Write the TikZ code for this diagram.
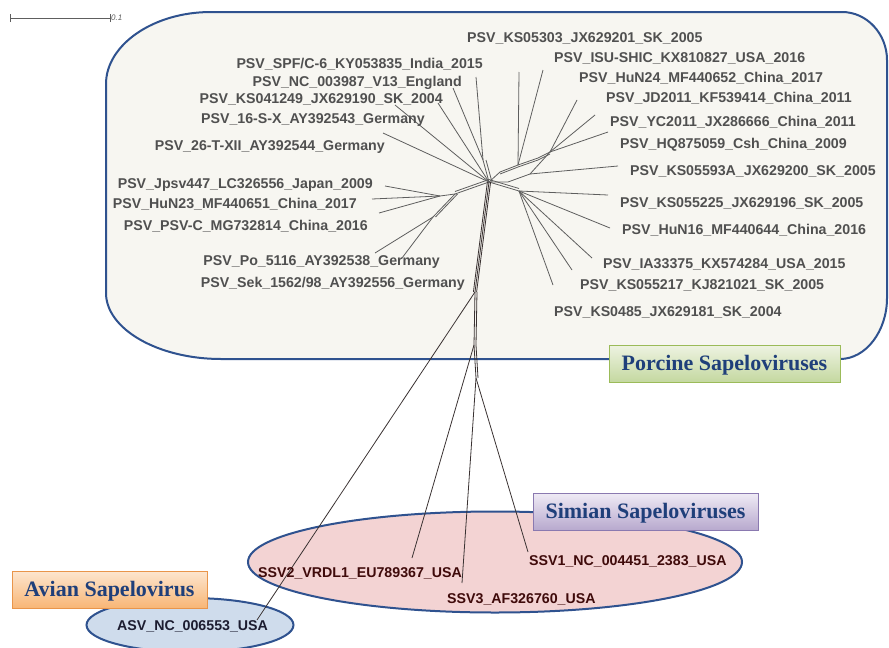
\documentclass[tikz,border=0pt]{standalone}
\usepackage{fontspec}
\setmainfont{Liberation Serif}
\setsansfont{Liberation Sans}
\usetikzlibrary{shapes.geometric}

\definecolor{frameblue}{HTML}{2F528F}
\definecolor{boxfill}{HTML}{F7F6F1}
\definecolor{psvgrey}{HTML}{505050}
\definecolor{ssvred}{HTML}{3F0A0A}
\definecolor{asvdark}{HTML}{1C1C30}
\definecolor{titleblue}{HTML}{1F3F7A}
\definecolor{edgegrey}{HTML}{5E5E5E}
\definecolor{edgedark}{HTML}{3A3232}
\definecolor{simfill}{HTML}{F3D3D3}
\definecolor{avfill}{HTML}{CFDCEC}
\definecolor{porctop}{HTML}{EEF3E2}
\definecolor{porcbot}{HTML}{C4D8A0}
\definecolor{porcline}{HTML}{9BBB59}
\definecolor{simtop}{HTML}{EFEBF5}
\definecolor{simbot}{HTML}{B8A9CE}
\definecolor{simline}{HTML}{8A79B0}
\definecolor{avtop}{HTML}{FDE6CF}
\definecolor{avbot}{HTML}{F8B676}
\definecolor{avline}{HTML}{E9954A}

\begin{document}
\begin{tikzpicture}[x=1pt, y=-1pt,
  psvl/.style={anchor=east, inner sep=0pt, text height=10.2pt, text depth=0pt, text=psvgrey, font=\sffamily\bfseries\fontsize{14.2}{16}\selectfont},
  psvr/.style={psvl, anchor=west},
  ssv/.style={psvl, anchor=west, text=ssvred},
  br/.style={draw=edgegrey, line width=0.8pt},
  brd/.style={draw=edgedark, line width=0.8pt},
  grp/.style={ellipse, draw=frameblue, line width=2pt, inner sep=0pt},
  tbox/.style={rectangle, draw, line width=0.8pt, inner sep=0pt, minimum height=37pt, text height=14.6pt, text depth=0pt, text=titleblue, font=\rmfamily\bfseries\fontsize{22}{24}\selectfont}]
  \useasboundingbox (0,0) rectangle (889,648);

  % group outlines
  \draw[frameblue, line width=2pt, fill=boxfill] (211,12) -- (842,12)
    .. controls (867,12) and (887,34) .. (887,60) -- (887,298)
    .. controls (887,331) and (866,359) .. (840,359) -- (221,359)
    .. controls (158,359) and (106,329) .. (106,293) -- (106,84)
    .. controls (106,45) and (153,12) .. (211,12) -- cycle;
  \node[grp, fill=simfill, minimum width=494pt, minimum height=101pt] (simian) at (495,562) {};
  \node[grp, fill=avfill, minimum width=207pt, minimum height=54pt] (avian) at (190,625) {};

  % scale bar
  \coordinate (sbl) at (10,18);
  \coordinate (sbr) at (110,18);
  \draw[edgegrey, line width=0.6pt] (sbl) -- (sbr);
  \draw[edgegrey, line width=0.6pt] ([yshift=-4pt]sbl) -- ([yshift=4pt]sbl);
  \draw[edgegrey, line width=0.6pt] ([yshift=-4pt]sbr) -- ([yshift=4pt]sbr);
  \node[anchor=west, inner sep=1pt, text=edgegrey, font=\sffamily\itshape\fontsize{8}{9}\selectfont] (sbtext) at (sbr) {0.1};

  % branch points
  \coordinate (c0) at (489,182);
  \coordinate (cU) at (483,160);
  \coordinate (cL) at (455,194);
  \coordinate (cL1) at (440,196);
  \coordinate (cLL) at (433,217);
  \coordinate (r1) at (500,172);
  \coordinate (r2) at (518,165);
  \coordinate (r3) at (538,158);
  \coordinate (cR) at (550,152);
  \coordinate (q1) at (508,182);
  \coordinate (q2) at (530,174);
  \coordinate (cD) at (519,191);
  \coordinate (cT1) at (475,292);
  \coordinate (cS2) at (474,345);
  \coordinate (cT2) at (476,378);

  % leaf ends
  \coordinate (eSPF) at (476,77);
  \coordinate (eNC) at (453,88);
  \coordinate (eKS041249) at (438,103);
  \coordinate (e16SX) at (395,105);
  \coordinate (e26T) at (383,133);
  \coordinate (eJpsv) at (385,186);
  \coordinate (eHuN23) at (372,199);
  \coordinate (ePSVC) at (379,213);
  \coordinate (ePo) at (375,253);
  \coordinate (eSek) at (402,258);
  \coordinate (eKS05303) at (519,72);
  \coordinate (eISU) at (543,70);
  \coordinate (eHuN24) at (577,100);
  \coordinate (eJD) at (595,115);
  \coordinate (eYC) at (608,132);
  \coordinate (eKS05593A) at (618,166);
  \coordinate (eKS055225) at (608,195);
  \coordinate (eHuN16) at (610,228);
  \coordinate (eIA) at (592,258);
  \coordinate (eKS055217) at (572,270);
  \coordinate (eKS0485) at (553,285);
  \coordinate (eASV) at (257,620);
  \coordinate (eSSV2) at (412,558);
  \coordinate (eSSV3) at (462,583);
  \coordinate (eSSV1) at (528,552);

  % network
  \draw[br] (eSPF) -- (cU);
  \draw[br] (eNC) -- (cU);
  \draw[br] (cU) -- (c0);
  \draw[br] ([xshift=3pt]cU) -- ([xshift=3pt]c0);
  \draw[br] (eKS041249) -- (c0);
  \draw[br] (e16SX) -- (c0);
  \draw[br] (e26T) -- (c0);
  \draw[br] (c0) -- (cL);
  \draw[br] ([yshift=2.5pt]c0) -- ([yshift=2.5pt]cL);
  \draw[br] (cL) -- (cL1);
  \draw[br] (eJpsv) -- (cL1);
  \draw[br] (eHuN23) -- (cL1);
  \draw[br] (ePSVC) -- (cL1);
  \draw[br] (cL) -- (cLL);
  \draw[br] ([xshift=2.5pt]cL) -- ([xshift=2.5pt]cLL);
  \draw[br] (ePo) -- (cLL);
  \draw[br] (eSek) -- (cLL);
  \draw[br] (c0) -- (r1) -- (r2) -- (r3) -- (cR);
  \draw[br] ([yshift=-2pt]r1) -- ([yshift=-2pt]r2) -- ([yshift=-2pt]r3) -- ([yshift=-2pt]cR);
  \draw[br] (c0) -- (q1) -- (q2) -- (cR);
  \draw[br] (eKS05303) -- (r2);
  \draw[br] (eISU) -- (r2);
  \draw[br] (eHuN24) -- (cR);
  \draw[br] (eJD) -- (cR);
  \draw[br] (eYC) -- (cR);
  \draw[br] (eKS05593A) -- (q2);
  \draw[br] (c0) -- (cD);
  \draw[br] ([yshift=2.5pt]c0) -- ([yshift=2.5pt]cD);
  \draw[br] (cD) -- (eKS055225);
  \draw[br] (cD) -- (eHuN16);
  \draw[br] (cD) -- (eIA);
  \draw[br] (cD) -- (eKS055217);
  \draw[br] (cD) -- (eKS0485);
  \draw[brd] ([xshift=-1.6pt]c0) -- ([xshift=-1.6pt]cT1);
  \draw[brd] (c0) -- (cT1);
  \draw[brd] ([xshift=1.6pt]c0) -- ([xshift=1.6pt]cT1);
  \draw[brd] (cT1) -- (cS2);
  \draw[brd] ([xshift=2pt]cT1) -- ([xshift=2pt]cS2);
  \draw[brd] (cS2) -- (cT2);
  \draw[brd] ([xshift=2pt]cS2) -- ([xshift=2pt]cT2);
  \draw[brd] (cT1) -- (eASV);
  \draw[brd] (cS2) -- (eSSV2);
  \draw[brd] (cT2) -- (eSSV3);
  \draw[brd] (cT2) -- (eSSV1);

  % porcine labels
  \node[psvl] (tSPF) at (483,63) {PSV\_SPF/C-6\_KY053835\_India\_2015};
  \node[psvl] (tNC) at (462,81) {PSV\_NC\_003987\_V13\_England};
  \node[psvl] (tKS041249) at (443,98) {PSV\_KS041249\_JX629190\_SK\_2004};
  \node[psvl] (t16SX) at (425,118) {PSV\_16-S-X\_AY392543\_Germany};
  \node[psvl] (t26T) at (385,145) {PSV\_26-T-XII\_AY392544\_Germany};
  \node[psvl] (tJpsv) at (373,183) {PSV\_Jpsv447\_LC326556\_Japan\_2009};
  \node[psvl] (tHuN23) at (357,203) {PSV\_HuN23\_MF440651\_China\_2017};
  \node[psvl] (tPSVC) at (368,225) {PSV\_PSV-C\_MG732814\_China\_2016};
  \node[psvl] (tPo) at (440,260) {PSV\_Po\_5116\_AY392538\_Germany};
  \node[psvl] (tSek) at (465,282) {PSV\_Sek\_1562/98\_AY392556\_Germany};
  \node[psvr] (tKS05303) at (467,37) {PSV\_KS05303\_JX629201\_SK\_2005};
  \node[psvr] (tISU) at (554,57) {PSV\_ISU-SHIC\_KX810827\_USA\_2016};
  \node[psvr] (tHuN24) at (579,77) {PSV\_HuN24\_MF440652\_China\_2017};
  \node[psvr] (tJD) at (606,97) {PSV\_JD2011\_KF539414\_China\_2011};
  \node[psvr] (tYC) at (610,121) {PSV\_YC2011\_JX286666\_China\_2011};
  \node[psvr] (tHQ) at (620,143) {PSV\_HQ875059\_Csh\_China\_2009};
  \node[psvr] (tKS05593A) at (630,170) {PSV\_KS05593A\_JX629200\_SK\_2005};
  \node[psvr] (tKS055225) at (620,202) {PSV\_KS055225\_JX629196\_SK\_2005};
  \node[psvr] (tHuN16) at (622,229) {PSV\_HuN16\_MF440644\_China\_2016};
  \node[psvr] (tIA) at (603,263) {PSV\_IA33375\_KX574284\_USA\_2015};
  \node[psvr] (tKS055217) at (580,284) {PSV\_KS055217\_KJ821021\_SK\_2005};
  \node[psvr] (tKS0485) at (554,311) {PSV\_KS0485\_JX629181\_SK\_2004};

  % simian and avian labels
  \node[ssv] (tSSV2) at (258,572) {SSV2\_VRDL1\_EU789367\_USA};
  \node[ssv] (tSSV3) at (447,598) {SSV3\_AF326760\_USA};
  \node[ssv] (tSSV1) at (529,560) {SSV1\_NC\_004451\_2383\_USA};
  \node[ssv, text=asvdark] (tASV) at (117,625) {ASV\_NC\_006553\_USA};

  % group titles
  \node[tbox, draw=porcline, top color=porctop, bottom color=porcbot, minimum width=231pt] (porcine) at (724.5,363.5) {Porcine Sapeloviruses};
  \node[tbox, draw=simline, top color=simtop, bottom color=simbot, minimum width=225pt] (simtitle) at (645.5,511.5) {Simian Sapeloviruses};
  \node[tbox, draw=avline, top color=avtop, bottom color=avbot, minimum width=195pt] (avtitle) at (109.5,589.5) {Avian Sapelovirus};
\end{tikzpicture}
\end{document}
